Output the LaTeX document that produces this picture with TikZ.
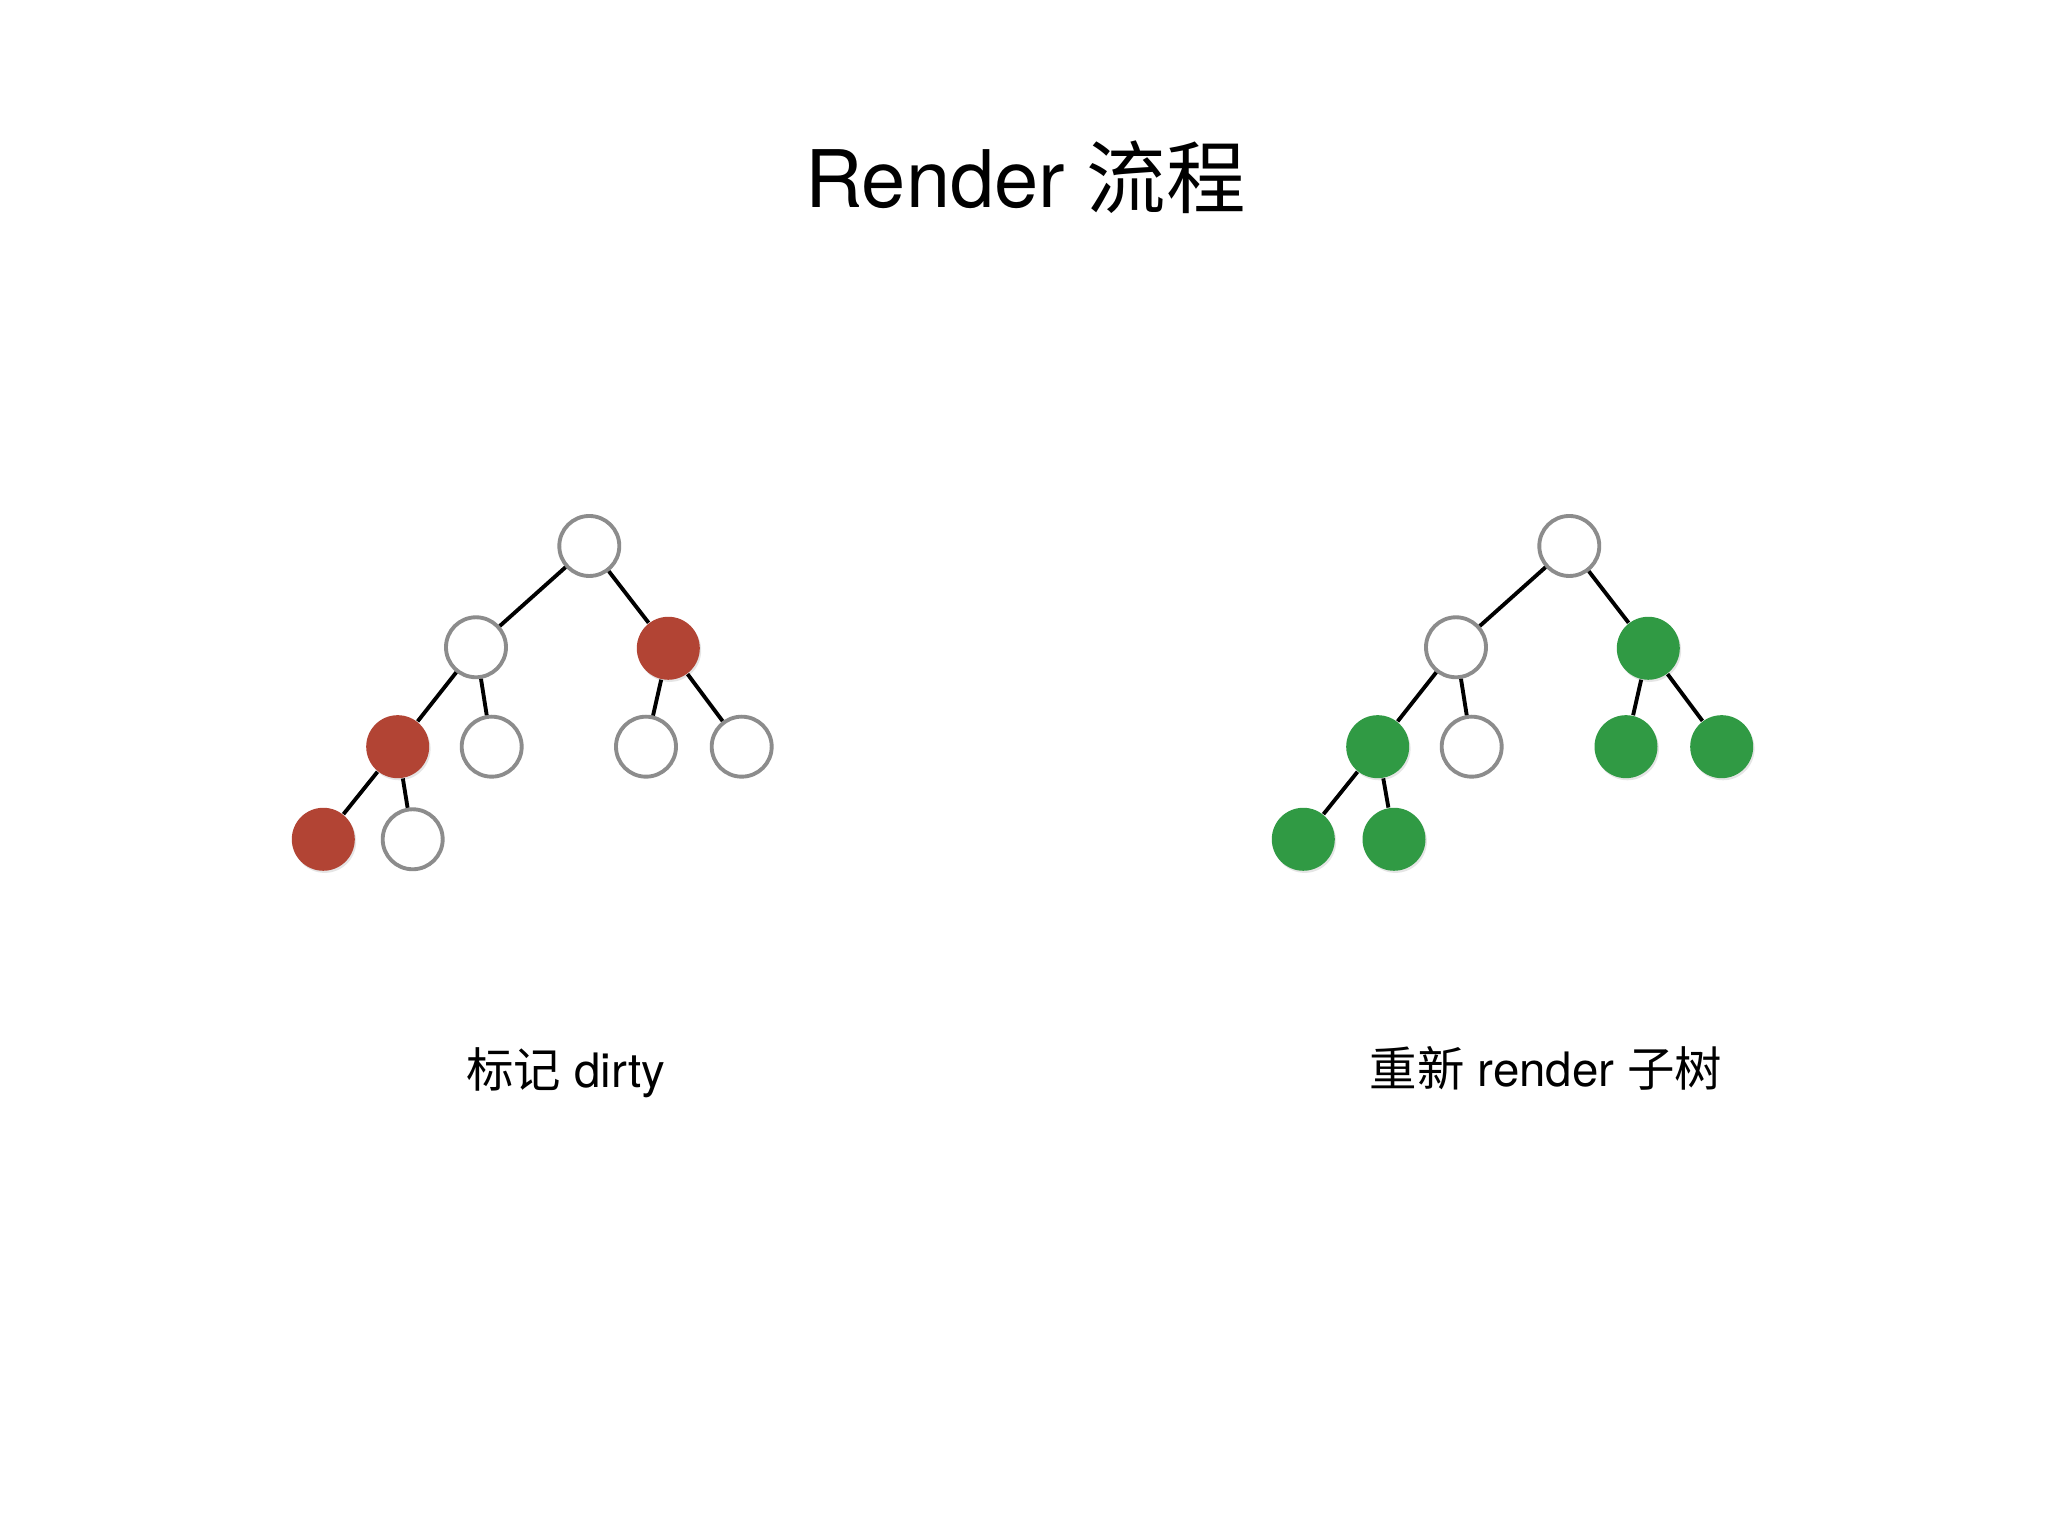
\documentclass[tikz,border=0pt]{standalone}
\usepackage{fontspec}
\setmainfont{TeX Gyre Heros}
\newfontfamily\cjk{Noto Sans CJK SC}
\usetikzlibrary{shadows}
\definecolor{dirtyred}{RGB}{178,68,52}
\definecolor{freshgreen}{RGB}{48,154,68}
\definecolor{ringgray}{RGB}{140,140,140}
\tikzset{
  treeedge/.style={draw=black, line width=1.1pt},
  treenode/.style={circle, minimum size=0.6cm, inner sep=0pt},
}

\begin{document}
\begin{tikzpicture}[
  clean/.style={treenode, draw=ringgray, line width=1.1pt, fill=white},
  dirty/.style={treenode, fill=dirtyred, minimum size=0.63cm, drop shadow={opacity=0.2, shadow xshift=0.4pt, shadow yshift=-0.6pt}},
  fresh/.style={treenode, fill=freshgreen, minimum size=0.63cm, drop shadow={opacity=0.2, shadow xshift=0.4pt, shadow yshift=-0.6pt}},
  caption/.style={anchor=base, font=\fontsize{13.5}{16}\selectfont},
]
  \useasboundingbox[fill=white] (0,0) rectangle (20.48,15.36);

  \node[anchor=base, font=\fontsize{22.6}{26}\selectfont] (title) at (10.255,13.28) {Render {\cjk 流程}};

  % left tree: mark dirty
  \node[clean] (lr) at (5.893,9.90) {};
  \node[clean] (la) at (4.760,8.887) {};
  \node[dirty] (lb) at (6.683,8.877) {};
  \node[dirty] (laa) at (3.977,7.893) {};
  \node[clean] (lab) at (4.917,7.893) {};
  \node[clean] (lba) at (6.460,7.893) {};
  \node[clean] (lbb) at (7.417,7.893) {};
  \node[dirty] (laaa) at (3.233,6.967) {};
  \node[clean] (laab) at (4.127,6.967) {};

  % right tree: re-render subtree
  \node[clean] (rr) at (15.693,9.90) {};
  \node[clean] (ra) at (14.560,8.887) {};
  \node[fresh] (rb) at (16.483,8.877) {};
  \node[fresh] (raa) at (13.777,7.893) {};
  \node[clean] (rab) at (14.717,7.893) {};
  \node[fresh] (rba) at (16.260,7.893) {};
  \node[fresh] (rbb) at (17.217,7.893) {};
  \node[fresh] (raaa) at (13.033,6.967) {};
  \node[fresh] (raab) at (13.940,6.967) {};

  \foreach \t in {l,r}
    \foreach \p/\c in {r/a,r/b,a/aa,a/ab,b/ba,b/bb,aa/aaa,aa/aab}
      \draw[treeedge] (\t\p) -- (\t\c);

  \node[caption] (lcap) at (5.66,4.48) {{\cjk 标记} dirty};
  \node[caption] (rcap) at (15.46,4.49) {{\cjk 重新} render {\cjk 子树}};
\end{tikzpicture}
\end{document}
